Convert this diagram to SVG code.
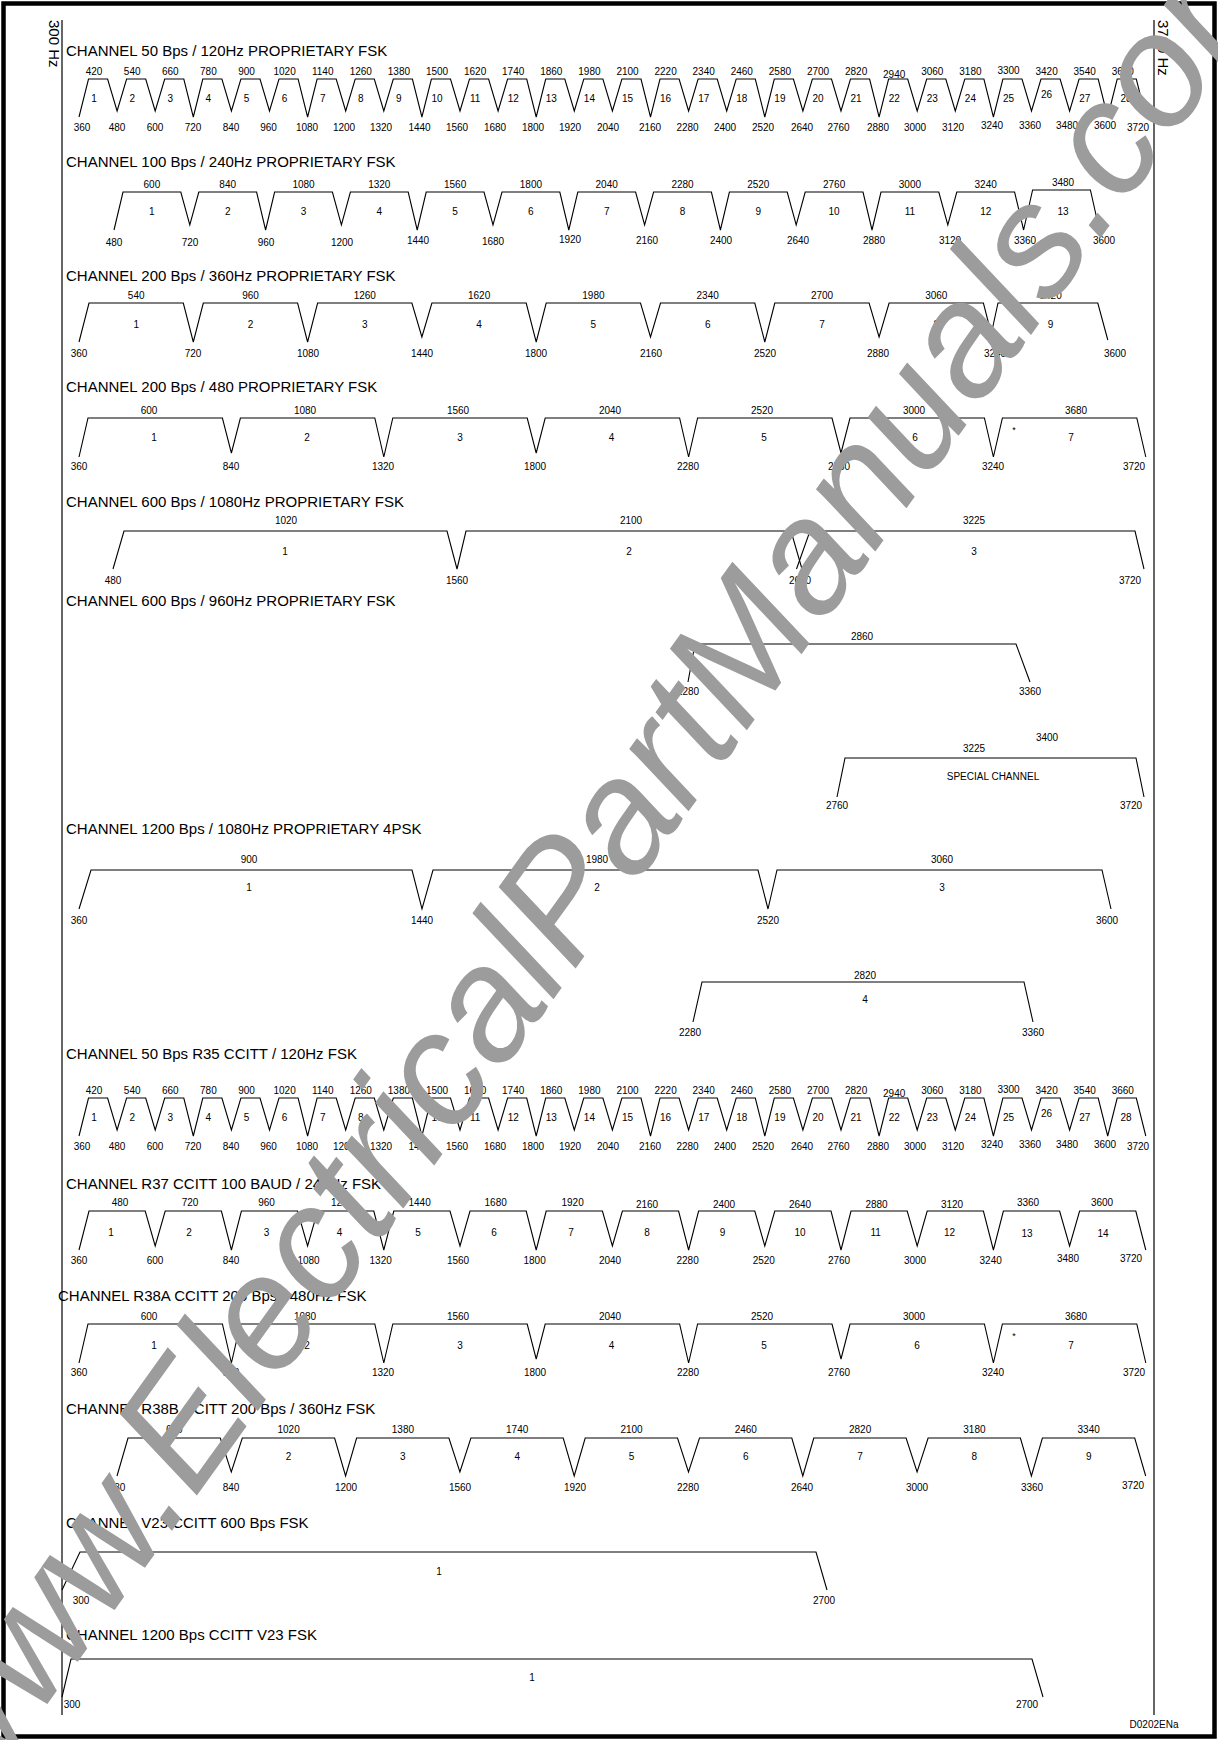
<svg xmlns="http://www.w3.org/2000/svg" width="1218" height="1740" viewBox="0 0 1218 1740">
<style>
.ln{fill:none;stroke:#000;stroke-width:1.1;stroke-linejoin:miter}
.ax{stroke:#000;stroke-width:1.2}
.tt{font-family:"Liberation Sans",Arial,sans-serif;font-size:15px;fill:#000}
.nb{font-family:"Liberation Sans",Arial,sans-serif;font-size:10px;fill:#000;text-anchor:middle}
.wm{font-family:"Liberation Sans",Arial,sans-serif;font-size:160px;font-style:italic;fill:#9c9c9c}
</style>
<rect x="0" y="0" width="1218" height="1740" fill="#fff"/>
<rect x="3.5" y="3.5" width="1211" height="1733" fill="none" stroke="#000" stroke-width="4.5"/>
<g id="axes">
<line class="ax" x1="62" y1="20" x2="62" y2="1715"/>
<line class="ax" x1="1154" y1="20" x2="1154" y2="1715"/>
<text class="tt" transform="translate(49,20) rotate(90)">300 Hz</text>
<text class="tt" transform="translate(1158,20) rotate(90)">3720 Hz</text>
</g>
<g id="row1">
<text class="tt" x="66" y="56">CHANNEL 50 Bps / 120Hz PROPRIETARY FSK</text>
<g id="row1body">
<path class="ln" d="M79,117l9.5,-38h19.1l9.5,32l9.5,-32h19.1l9.5,32l9.5,-32h19.1l9.5,38l9.5,-38h19.1l9.5,32l9.5,-32h19.1l9.5,32l9.5,-32h19.1l9.5,38l9.5,-38h19.1l9.5,32l9.5,-32h19.1l9.5,32l9.5,-32h19.1l9.5,38l9.5,-38h19.1l9.5,32l9.5,-32h19.1l9.5,32l9.5,-32h19.1l9.5,38l9.5,-38h19.1l9.5,32l9.5,-32h19.1l9.5,32l9.5,-32h19.1l9.5,38l9.5,-38h19.1l9.5,32l9.5,-32h19.1l9.5,32l9.5,-32h19.1l9.5,38l9.5,-38h19.1l9.5,32l9.5,-32h19.1l9.5,32l9.5,-32h19.1l9.5,38l9.5,-38h19.1l9.5,32l9.5,-32h19.1l9.5,32l9.5,-32h19.1l9.5,38l9.5,-38h19.1l9.5,32l9.5,-32h19.1l9.5,32l9.5,-32h19.1l9.5,38l9.5,-38h19.1l9.5,38"/>
<text class="nb" y="75"><tspan x="94.1">420</tspan><tspan x="132.2">540</tspan><tspan x="170.3">660</tspan><tspan x="208.4">780</tspan><tspan x="246.5">900</tspan><tspan x="284.6">1020</tspan><tspan x="322.7">1140</tspan><tspan x="360.8">1260</tspan><tspan x="398.9">1380</tspan><tspan x="437">1500</tspan><tspan x="475.1">1620</tspan><tspan x="513.2">1740</tspan><tspan x="551.3">1860</tspan><tspan x="589.4">1980</tspan><tspan x="627.5">2100</tspan><tspan x="665.6">2220</tspan><tspan x="703.7">2340</tspan><tspan x="741.8">2460</tspan><tspan x="779.9">2580</tspan><tspan x="818">2700</tspan><tspan x="856.1">2820</tspan><tspan x="894.2" y="78">2940</tspan><tspan x="932.3" y="75">3060</tspan><tspan x="970.4">3180</tspan><tspan x="1008.5" y="74">3300</tspan><tspan x="1046.6" y="75">3420</tspan><tspan x="1084.7">3540</tspan><tspan x="1122.8">3660</tspan></text>
<text class="nb" y="102"><tspan x="94.1">1</tspan><tspan x="132.2">2</tspan><tspan x="170.3">3</tspan><tspan x="208.4">4</tspan><tspan x="246.5">5</tspan><tspan x="284.6">6</tspan><tspan x="322.7">7</tspan><tspan x="360.8">8</tspan><tspan x="398.9">9</tspan><tspan x="437">10</tspan><tspan x="475.1">11</tspan><tspan x="513.2">12</tspan><tspan x="551.3">13</tspan><tspan x="589.4">14</tspan><tspan x="627.5">15</tspan><tspan x="665.6">16</tspan><tspan x="703.7">17</tspan><tspan x="741.8">18</tspan><tspan x="779.9">19</tspan><tspan x="818">20</tspan><tspan x="856.1">21</tspan><tspan x="894.2">22</tspan><tspan x="932.3">23</tspan><tspan x="970.4">24</tspan><tspan x="1008.5">25</tspan><tspan x="1046.6" y="98">26</tspan><tspan x="1084.7" y="102">27</tspan><tspan x="1126">28</tspan></text>
<text class="nb" y="131"><tspan x="82">360</tspan><tspan x="117">480</tspan><tspan x="155">600</tspan><tspan x="193">720</tspan><tspan x="231">840</tspan><tspan x="268.5">960</tspan><tspan x="307">1080</tspan><tspan x="344">1200</tspan><tspan x="381">1320</tspan><tspan x="419.5">1440</tspan><tspan x="457">1560</tspan><tspan x="495">1680</tspan><tspan x="533">1800</tspan><tspan x="570">1920</tspan><tspan x="608">2040</tspan><tspan x="650">2160</tspan><tspan x="687.5">2280</tspan><tspan x="725">2400</tspan><tspan x="763">2520</tspan><tspan x="802">2640</tspan><tspan x="838.5">2760</tspan><tspan x="878">2880</tspan><tspan x="915">3000</tspan><tspan x="953">3120</tspan><tspan x="992" y="129">3240</tspan><tspan x="1030">3360</tspan><tspan x="1067">3480</tspan><tspan x="1105">3600</tspan><tspan x="1138" y="131">3720</tspan></text>
</g>
</g>
<g id="row2">
<text class="tt" x="66" y="167">CHANNEL 100 Bps / 240Hz PROPRIETARY FSK</text>
<path class="ln" d="M114,230l9,-38h57.8l9,33l9,-33h57.8l9,38l9,-38h57.8l9,33l9,-33h57.8l9,38l9,-38h57.8l9,33l9,-33h57.8l9,38l9,-38h57.8l9,33l9,-33h57.8l9,38l9,-38h57.8l9,33l9,-33h57.8l9,38l9,-38h57.8l9,33l9,-33h57.8l9,38l9,-40h57.8l9,40"/>
<text class="nb" y="188"><tspan x="151.9">600</tspan><tspan x="227.7">840</tspan><tspan x="303.5">1080</tspan><tspan x="379.3">1320</tspan><tspan x="455.1">1560</tspan><tspan x="530.9">1800</tspan><tspan x="606.7">2040</tspan><tspan x="682.5">2280</tspan><tspan x="758.3">2520</tspan><tspan x="834.1">2760</tspan><tspan x="909.9">3000</tspan><tspan x="985.7">3240</tspan><tspan x="1063" y="186">3480</tspan></text>
<text class="nb" y="215"><tspan x="151.9">1</tspan><tspan x="227.7">2</tspan><tspan x="303.5">3</tspan><tspan x="379.3">4</tspan><tspan x="455.1">5</tspan><tspan x="530.9">6</tspan><tspan x="606.7">7</tspan><tspan x="682.5">8</tspan><tspan x="758.3">9</tspan><tspan x="834.1">10</tspan><tspan x="909.9">11</tspan><tspan x="985.7">12</tspan><tspan x="1063">13</tspan></text>
<text class="nb" y="246"><tspan x="114">480</tspan><tspan x="190">720</tspan><tspan x="266">960</tspan><tspan x="342">1200</tspan><tspan x="418" y="244">1440</tspan><tspan x="493" y="245">1680</tspan><tspan x="570" y="243">1920</tspan><tspan x="647" y="244">2160</tspan><tspan x="721">2400</tspan><tspan x="798">2640</tspan><tspan x="874">2880</tspan><tspan x="950">3120</tspan><tspan x="1025">3360</tspan><tspan x="1104">3600</tspan></text>
</g>
<g id="row3">
<text class="tt" x="66" y="281">CHANNEL 200 Bps / 360Hz PROPRIETARY FSK</text>
<path class="ln" d="M79,342l10,-39h94.3l10,39l10,-39h94.3l10,39l10,-39h94.3l10,34l10,-34h94.3l10,39l10,-39h94.3l10,34l10,-34h94.3l10,39l10,-39h94.3l10,34l10,-34h94.3l10,39"/>
<path class="ln" d="M989.5,342L998,303H1097.8L1107.8,340"/>
<text class="nb" y="299"><tspan x="136.2">540</tspan><tspan x="250.5">960</tspan><tspan x="364.8">1260</tspan><tspan x="479.1">1620</tspan><tspan x="593.4">1980</tspan><tspan x="707.7">2340</tspan><tspan x="822">2700</tspan><tspan x="936.3">3060</tspan><tspan x="1050.6">3420</tspan></text>
<text class="nb" y="328"><tspan x="136.2">1</tspan><tspan x="250.5">2</tspan><tspan x="364.8">3</tspan><tspan x="479.1">4</tspan><tspan x="593.4">5</tspan><tspan x="707.7">6</tspan><tspan x="822">7</tspan><tspan x="936.3">8</tspan><tspan x="1050.6">9</tspan></text>
<text class="nb" y="357"><tspan x="79">360</tspan><tspan x="193">720</tspan><tspan x="308">1080</tspan><tspan x="422">1440</tspan><tspan x="536">1800</tspan><tspan x="651">2160</tspan><tspan x="765">2520</tspan><tspan x="878">2880</tspan><tspan x="995">3240</tspan><tspan x="1115">3600</tspan></text>
</g>
<g id="row4">
<text class="tt" x="66" y="392">CHANNEL 200 Bps / 480 PROPRIETARY FSK</text>
<path class="ln" d="M79,457l9,-39h134.4l9,35l9,-35h134.4l9,39l9,-39h134.4l9,35l9,-35h134.4l9,39l9,-39h134.4l9,35l9,-35h134.4l9,39l9,-39h134.4l9,39"/>
<text class="nb" y="414"><tspan x="149">600</tspan><tspan x="305">1080</tspan><tspan x="458">1560</tspan><tspan x="610">2040</tspan><tspan x="762">2520</tspan><tspan x="914">3000</tspan><tspan x="1076">3680</tspan></text>
<text class="nb" y="441"><tspan x="154">1</tspan><tspan x="307">2</tspan><tspan x="460">3</tspan><tspan x="611.5">4</tspan><tspan x="764">5</tspan><tspan x="915">6</tspan><tspan x="1071">7</tspan></text>
<text class="nb" x="1014" y="433" style="font-size:9px">*</text>
<text class="nb" y="470"><tspan x="79">360</tspan><tspan x="231">840</tspan><tspan x="383">1320</tspan><tspan x="535">1800</tspan><tspan x="688">2280</tspan><tspan x="839">2760</tspan><tspan x="993">3240</tspan><tspan x="1134">3720</tspan></text>
</g>
<g id="row5">
<text class="tt" x="66" y="507">CHANNEL 600 Bps / 1080Hz PROPRIETARY FSK</text>
<path class="ln" d="M113,569L124,531H447L457,569L466,531H791L802,569"/>
<path class="ln" d="M796.5,569L810,531H1135L1144,569"/>
<text class="nb" y="524"><tspan x="286">1020</tspan><tspan x="631">2100</tspan><tspan x="974">3225</tspan></text>
<text class="nb" y="555"><tspan x="285">1</tspan><tspan x="629">2</tspan><tspan x="974">3</tspan></text>
<text class="nb" y="584"><tspan x="113">480</tspan><tspan x="457">1560</tspan><tspan x="800">2640</tspan><tspan x="1130">3720</tspan></text>
</g>
<g id="row6">
<text class="tt" x="66" y="606">CHANNEL 600 Bps / 960Hz PROPRIETARY FSK</text>
<path class="ln" d="M688,682L695,644H1016L1030,682"/>
<text class="nb" x="862" y="640">2860</text>
<text class="nb" y="695"><tspan x="688">2280</tspan><tspan x="1030">3360</tspan></text>
<path class="ln" d="M837,797L845,758H1136L1144,797"/>
<text class="nb" x="1047" y="741">3400</text>
<text class="nb" x="974" y="752">3225</text>
<text class="nb" x="993" y="780">SPECIAL CHANNEL</text>
<text class="nb" y="809"><tspan x="837">2760</tspan><tspan x="1131">3720</tspan></text>
</g>
<g id="row7">
<text class="tt" x="66" y="834">CHANNEL 1200 Bps / 1080Hz PROPRIETARY 4PSK</text>
<path class="ln" d="M79,909L91,870H412L422,909L433,870H758L768,909L777,870H1102L1111,909"/>
<text class="nb" y="863"><tspan x="249">900</tspan><tspan x="597">1980</tspan><tspan x="942">3060</tspan></text>
<text class="nb" y="891"><tspan x="249">1</tspan><tspan x="597">2</tspan><tspan x="942">3</tspan></text>
<text class="nb" y="924"><tspan x="79">360</tspan><tspan x="422">1440</tspan><tspan x="768">2520</tspan><tspan x="1107">3600</tspan></text>
<path class="ln" d="M693,1022L702,982H1024L1033,1022"/>
<text class="nb" x="865" y="979">2820</text>
<text class="nb" x="865" y="1003">4</text>
<text class="nb" y="1036"><tspan x="690">2280</tspan><tspan x="1033">3360</tspan></text>
</g>
<g id="row8">
<text class="tt" x="66" y="1059">CHANNEL 50 Bps R35 CCITT / 120Hz FSK</text>
<g transform="translate(0,1019)">
<path class="ln" d="M79,117l9.5,-38h19.1l9.5,32l9.5,-32h19.1l9.5,32l9.5,-32h19.1l9.5,38l9.5,-38h19.1l9.5,32l9.5,-32h19.1l9.5,32l9.5,-32h19.1l9.5,38l9.5,-38h19.1l9.5,32l9.5,-32h19.1l9.5,32l9.5,-32h19.1l9.5,38l9.5,-38h19.1l9.5,32l9.5,-32h19.1l9.5,32l9.5,-32h19.1l9.5,38l9.5,-38h19.1l9.5,32l9.5,-32h19.1l9.5,32l9.5,-32h19.1l9.5,38l9.5,-38h19.1l9.5,32l9.5,-32h19.1l9.5,32l9.5,-32h19.1l9.5,38l9.5,-38h19.1l9.5,32l9.5,-32h19.1l9.5,32l9.5,-32h19.1l9.5,38l9.5,-38h19.1l9.5,32l9.5,-32h19.1l9.5,32l9.5,-32h19.1l9.5,38l9.5,-38h19.1l9.5,32l9.5,-32h19.1l9.5,32l9.5,-32h19.1l9.5,38l9.5,-38h19.1l9.5,38"/>
<text class="nb" y="75"><tspan x="94.1">420</tspan><tspan x="132.2">540</tspan><tspan x="170.3">660</tspan><tspan x="208.4">780</tspan><tspan x="246.5">900</tspan><tspan x="284.6">1020</tspan><tspan x="322.7">1140</tspan><tspan x="360.8">1260</tspan><tspan x="398.9">1380</tspan><tspan x="437">1500</tspan><tspan x="475.1">1620</tspan><tspan x="513.2">1740</tspan><tspan x="551.3">1860</tspan><tspan x="589.4">1980</tspan><tspan x="627.5">2100</tspan><tspan x="665.6">2220</tspan><tspan x="703.7">2340</tspan><tspan x="741.8">2460</tspan><tspan x="779.9">2580</tspan><tspan x="818">2700</tspan><tspan x="856.1">2820</tspan><tspan x="894.2" y="78">2940</tspan><tspan x="932.3" y="75">3060</tspan><tspan x="970.4">3180</tspan><tspan x="1008.5" y="74">3300</tspan><tspan x="1046.6" y="75">3420</tspan><tspan x="1084.7">3540</tspan><tspan x="1122.8">3660</tspan></text>
<text class="nb" y="102"><tspan x="94.1">1</tspan><tspan x="132.2">2</tspan><tspan x="170.3">3</tspan><tspan x="208.4">4</tspan><tspan x="246.5">5</tspan><tspan x="284.6">6</tspan><tspan x="322.7">7</tspan><tspan x="360.8">8</tspan><tspan x="398.9">9</tspan><tspan x="437">10</tspan><tspan x="475.1">11</tspan><tspan x="513.2">12</tspan><tspan x="551.3">13</tspan><tspan x="589.4">14</tspan><tspan x="627.5">15</tspan><tspan x="665.6">16</tspan><tspan x="703.7">17</tspan><tspan x="741.8">18</tspan><tspan x="779.9">19</tspan><tspan x="818">20</tspan><tspan x="856.1">21</tspan><tspan x="894.2">22</tspan><tspan x="932.3">23</tspan><tspan x="970.4">24</tspan><tspan x="1008.5">25</tspan><tspan x="1046.6" y="98">26</tspan><tspan x="1084.7" y="102">27</tspan><tspan x="1126">28</tspan></text>
<text class="nb" y="131"><tspan x="82">360</tspan><tspan x="117">480</tspan><tspan x="155">600</tspan><tspan x="193">720</tspan><tspan x="231">840</tspan><tspan x="268.5">960</tspan><tspan x="307">1080</tspan><tspan x="344">1200</tspan><tspan x="381">1320</tspan><tspan x="419.5">1440</tspan><tspan x="457">1560</tspan><tspan x="495">1680</tspan><tspan x="533">1800</tspan><tspan x="570">1920</tspan><tspan x="608">2040</tspan><tspan x="650">2160</tspan><tspan x="687.5">2280</tspan><tspan x="725">2400</tspan><tspan x="763">2520</tspan><tspan x="802">2640</tspan><tspan x="838.5">2760</tspan><tspan x="878">2880</tspan><tspan x="915">3000</tspan><tspan x="953">3120</tspan><tspan x="992" y="129">3240</tspan><tspan x="1030">3360</tspan><tspan x="1067">3480</tspan><tspan x="1105">3600</tspan><tspan x="1138" y="131">3720</tspan></text>
</g>
</g>
<g id="row9">
<text class="tt" x="66" y="1189">CHANNEL R37 CCITT 100 BAUD / 240Hz FSK</text>
<path class="ln" d="M79,1250l10,-39h56.2l10,35l10,-35h56.2l10,39l10,-39h56.2l10,35l10,-35h56.2l10,39l10,-39h56.2l10,35l10,-35h56.2l10,39l10,-39h56.2l10,35l10,-35h56.2l10,39l10,-39h56.2l10,35l10,-35h56.2l10,39l10,-39h56.2l10,35l10,-35h56.2l10,39l10,-39h56.2l10,35l10,-35h56.2l10,39"/>
<text class="nb" y="1206"><tspan x="120">480</tspan><tspan x="190">720</tspan><tspan x="266.5">960</tspan><tspan x="342">1200</tspan><tspan x="419.6">1440</tspan><tspan x="495.7">1680</tspan><tspan x="572.6">1920</tspan><tspan x="647" y="1208">2160</tspan><tspan x="724">2400</tspan><tspan x="800">2640</tspan><tspan x="876.5">2880</tspan><tspan x="952">3120</tspan><tspan x="1028" y="1206">3360</tspan><tspan x="1102">3600</tspan></text>
<text class="nb" y="1236"><tspan x="111">1</tspan><tspan x="189">2</tspan><tspan x="266.5">3</tspan><tspan x="339.5">4</tspan><tspan x="418">5</tspan><tspan x="494">6</tspan><tspan x="571">7</tspan><tspan x="647">8</tspan><tspan x="722.6">9</tspan><tspan x="800">10</tspan><tspan x="875.7">11</tspan><tspan x="949.5">12</tspan><tspan x="1027" y="1237">13</tspan><tspan x="1103">14</tspan></text>
<text class="nb" y="1264"><tspan x="79">360</tspan><tspan x="155">600</tspan><tspan x="231">840</tspan><tspan x="308.5">1080</tspan><tspan x="380.7">1320</tspan><tspan x="458">1560</tspan><tspan x="534.6">1800</tspan><tspan x="610">2040</tspan><tspan x="687.6">2280</tspan><tspan x="763.8">2520</tspan><tspan x="839">2760</tspan><tspan x="915">3000</tspan><tspan x="990.7">3240</tspan><tspan x="1068" y="1262">3480</tspan><tspan x="1131">3720</tspan></text>
</g>
<g id="row10">
<text class="tt" x="58" y="1301">CHANNEL R38A CCITT 200 Bps / 480Hz FSK</text>
<path class="ln" d="M79,1363l9,-39h134.4l9,39l9,-39h134.4l9,39l9,-39h134.4l9,35l9,-35h134.4l9,39l9,-39h134.4l9,35l9,-35h134.4l9,39l9,-39h134.4l9,39"/>
<text class="nb" y="1320"><tspan x="149">600</tspan><tspan x="305">1080</tspan><tspan x="458">1560</tspan><tspan x="610">2040</tspan><tspan x="762">2520</tspan><tspan x="914">3000</tspan><tspan x="1076">3680</tspan></text>
<text class="nb" y="1349"><tspan x="154">1</tspan><tspan x="307">2</tspan><tspan x="460">3</tspan><tspan x="611.5">4</tspan><tspan x="764">5</tspan><tspan x="917">6</tspan><tspan x="1071">7</tspan></text>
<text class="nb" x="1014" y="1339" style="font-size:9px">*</text>
<text class="nb" y="1376"><tspan x="79">360</tspan><tspan x="231">840</tspan><tspan x="383">1320</tspan><tspan x="535">1800</tspan><tspan x="688">2280</tspan><tspan x="839">2760</tspan><tspan x="993">3240</tspan><tspan x="1134">3720</tspan></text>
</g>
<g id="row11">
<text class="tt" x="66" y="1414">CHANNEL R38B CCITT 200 Bps / 360Hz FSK</text>
<path class="ln" d="M117,1476l11,-38h92.3l11,34l11,-34h92.3l11,38l11,-38h92.3l11,34l11,-34h92.3l11,38l11,-38h92.3l11,34l11,-34h92.3l11,38l11,-38h92.3l11,34l11,-34h92.3l11,38l11,-38h92.3l11,38"/>
<text class="nb" y="1433"><tspan x="174.3">660</tspan><tspan x="288.6">1020</tspan><tspan x="402.9">1380</tspan><tspan x="517.2">1740</tspan><tspan x="631.5">2100</tspan><tspan x="745.8">2460</tspan><tspan x="860.1">2820</tspan><tspan x="974.4">3180</tspan><tspan x="1088.7">3340</tspan></text>
<text class="nb" y="1460"><tspan x="174.3">1</tspan><tspan x="288.6">2</tspan><tspan x="402.9">3</tspan><tspan x="517.2">4</tspan><tspan x="631.5">5</tspan><tspan x="745.8">6</tspan><tspan x="860.1">7</tspan><tspan x="974.4">8</tspan><tspan x="1088.7">9</tspan></text>
<text class="nb" y="1491"><tspan x="117">480</tspan><tspan x="231">840</tspan><tspan x="346">1200</tspan><tspan x="460">1560</tspan><tspan x="575">1920</tspan><tspan x="688">2280</tspan><tspan x="802">2640</tspan><tspan x="917">3000</tspan><tspan x="1032">3360</tspan><tspan x="1133" y="1489">3720</tspan></text>
</g>
<g id="row12">
<text class="tt" x="66" y="1528">CHANNEL V23 CCITT 600 Bps FSK</text>
<path class="ln" d="M62,1590L80,1552H816L827,1590"/>
<text class="nb" x="439" y="1575">1</text>
<text class="nb" y="1604"><tspan x="81">300</tspan><tspan x="824">2700</tspan></text>
</g>
<g id="row13">
<text class="tt" x="66" y="1640">CHANNEL 1200 Bps CCITT V23 FSK</text>
<path class="ln" d="M62,1697L71,1659H1032L1043,1697"/>
<text class="nb" x="532" y="1681">1</text>
<text class="nb" y="1708"><tspan x="72">300</tspan><tspan x="1027">2700</tspan></text>
</g>
<text class="nb" x="1154" y="1728">D0202ENa</text>
<text class="wm" transform="translate(-29,1810) rotate(-54.3)">www.ElectricalPartManuals.com</text>
</svg>
